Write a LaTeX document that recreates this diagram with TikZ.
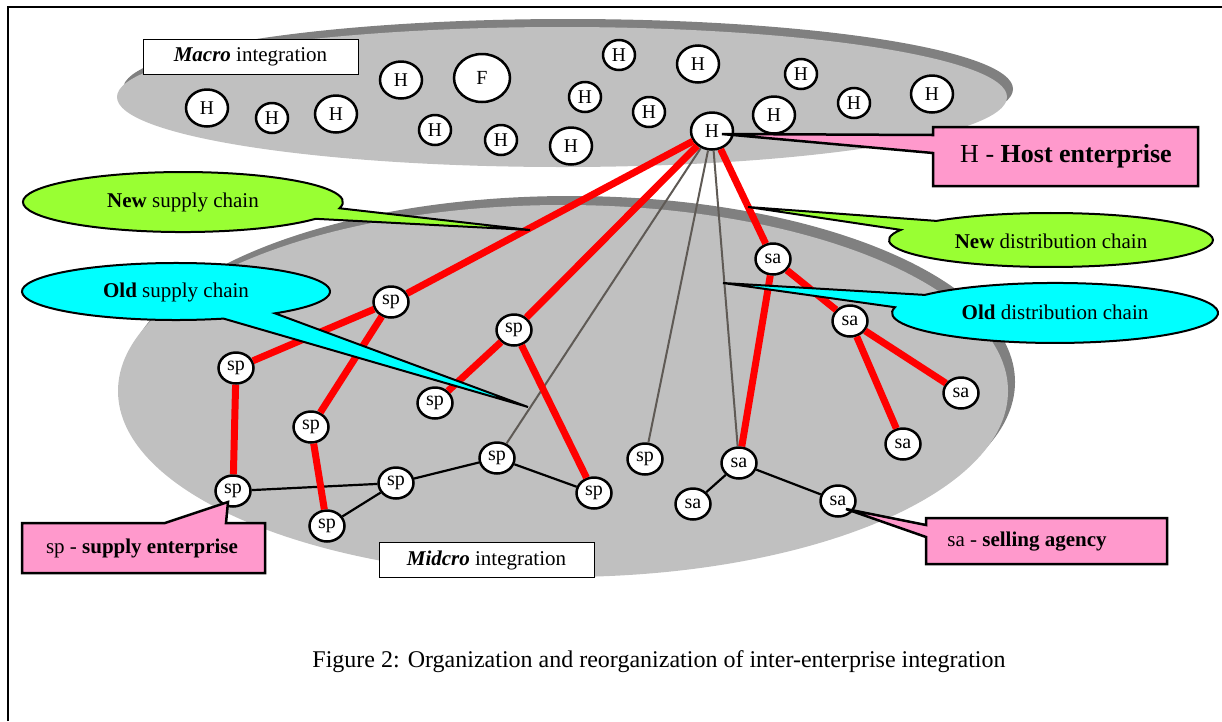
\documentclass[tikz,border=0pt]{standalone}
\usepackage{fontspec}
\setmainfont{Liberation Serif}
\usetikzlibrary{shapes.geometric}
\definecolor{silverfill}{HTML}{C0C0C0}
\definecolor{shadowgray}{HTML}{808080}
\definecolor{chainred}{HTML}{FF0000}
\definecolor{notepink}{HTML}{FF99CC}
\definecolor{newgreen}{HTML}{99FF33}
\definecolor{oldcyan}{HTML}{00FFFF}
\definecolor{oldline}{HTML}{5F5A55}
\newcommand\calloutfont{\fontsize{21}{25}\selectfont}
\begin{document}
\begin{tikzpicture}[x=1pt,y=-1pt,
  ent/.style 2 args={ellipse, draw=black, fill=white, line width=2.5pt,
    minimum width=#1pt, minimum height=#2pt, inner sep=0pt,
    font=\fontsize{19.5}{22}\selectfont},
  hbig/.style={ent={42}{37}},
  hsmall/.style={ent={32}{30}},
  unit/.style={ent={35}{31}, font=\fontsize{20}{22}\selectfont},
  newlink/.style={draw=chainred, line width=7pt},
  oldlink/.style={draw=oldline, line width=2pt},
  tie/.style={draw=black, line width=2.2pt},
  callout/.style={draw=black, line width=2pt, line join=miter},
  legend/.style={draw=black, line width=2.5pt, fill=notepink, line join=miter},
  levelbox/.style={draw=black, line width=0.8pt, fill=white,
    minimum width=215pt, minimum height=35pt, inner sep=0pt, font=\calloutfont},
  notetext/.style={font=\calloutfont, inner sep=0pt}
]
\useasboundingbox (0,0) rectangle (1222,721);

% frame
\draw[line width=2.5pt] (8,721) -- (8,7) -- (1222,7);

% integration levels
\fill[shadowgray] (568,89) ellipse[x radius=445, y radius=70];
\fill[silverfill] (562,97) ellipse[x radius=445, y radius=70];
\fill[shadowgray] (570,382) ellipse[x radius=445, y radius=186];
\fill[silverfill] (563,391) ellipse[x radius=445, y radius=186];

% macro level enterprises
\node[hbig]   (ha) at (207,108) {H};
\node[hsmall] (hb) at (272,118) {H};
\node[hbig]   (hc) at (336,114) {H};
\node[hbig]   (hd) at (401,80)  {H};
\node[ent={56}{48}, font=\fontsize{20}{22}\selectfont] (ff) at (482,78) {F};
\node[hsmall] (he) at (435,130) {H};
\node[hsmall] (hf) at (501,140) {H};
\node[hbig]   (hg) at (571,146) {H};
\node[hsmall] (hh) at (585,97)  {H};
\node[hsmall] (hi) at (619,55)  {H};
\node[hsmall] (hj) at (649,112) {H};
\node[hbig]   (hk) at (698,64)  {H};
\node[hbig]   (host) at (712,131) {H};
\node[hbig]   (hl) at (774,115) {H};
\node[hsmall] (hm) at (801,74)  {H};
\node[hsmall] (hn) at (854,103) {H};
\node[hbig]   (ho) at (932,94)  {H};

% midcro level enterprises
\node[unit] (spA) at (391,302) {sp};
\node[unit] (spB) at (236,368) {sp};
\node[unit] (spC) at (514,330) {sp};
\node[unit] (spD) at (435,403) {sp};
\node[unit] (spE) at (311,427) {sp};
\node[unit] (spF) at (233,491) {sp};
\node[unit] (spG) at (396,483) {sp};
\node[unit] (spH) at (327,526) {sp};
\node[unit] (spI) at (497,458) {sp};
\node[unit] (spJ) at (594,493) {sp};
\node[unit] (spK) at (645,459) {sp};
\node[unit] (sa1) at (773,259) {sa};
\node[unit] (sa2) at (850,321) {sa};
\node[unit] (sa3) at (961,393) {sa};
\node[unit] (sa4) at (903,444) {sa};
\node[unit] (sa5) at (739,463) {sa};
\node[unit] (sa6) at (693,504) {sa};
\node[unit] (sa7) at (838,501) {sa};

% old links
\draw[oldlink] (host) -- (spI);
\draw[oldlink] (host) -- (spK);
\draw[oldlink] (host) -- (sa5);
\draw[tie] (spF) -- (spG);
\draw[tie] (spG) -- (spH);
\draw[tie] (spG) -- (spI);
\draw[tie] (spI) -- (spJ);
\draw[tie] (sa5) -- (sa6);
\draw[tie] (sa5) -- (sa7);

% new chains
\draw[newlink] (host) -- (spA);
\draw[newlink] (host) -- (spC);
\draw[newlink] (host) -- (sa1);
\draw[newlink] (spA) -- (spB);
\draw[newlink] (spA) -- (spE);
\draw[newlink] (spB) -- (spF);
\draw[newlink] (spE) -- (spH);
\draw[newlink] (spC) -- (spD);
\draw[newlink] (spC) -- (spJ);
\draw[newlink] (sa1) -- (sa2);
\draw[newlink] (sa1) -- (sa5);
\draw[newlink] (sa2) -- (sa3);
\draw[newlink] (sa2) -- (sa4);

% level captions
\node[levelbox] (macrobox) at (250.5,56.5) {\textbf{\textit{Macro}} integration};
\node[levelbox] (midcrobox) at (486.5,560) {\textbf{\textit{Midcro}} integration};

% chain callouts
\filldraw[callout, fill=newgreen] (315.6,218.8)
  arc[start angle=34, end angle=372, x radius=160, y radius=30] -- (530,230) -- cycle;
\node[notetext] (newsupply) at (183,202) {\textbf{New} supply chain};

\filldraw[callout, fill=oldcyan] (223.6,318.6)
  arc[start angle=72, end angle=410, x radius=154, y radius=28.5] -- (528,407) -- cycle;
\node[notetext] (oldsupply) at (176,292) {\textbf{Old} supply chain};

\filldraw[callout, fill=newgreen] (936.4,220.9)
  arc[start angle=225, end angle=562, x radius=162, y radius=27] -- (748,207) -- cycle;
\node[notetext] (newdist) at (1051,241) {\textbf{New} distribution chain};

\filldraw[callout, fill=oldcyan] (924.8,294.9)
  arc[start angle=217, end angle=551, x radius=163, y radius=30] -- (723,283) -- cycle;
\node[notetext] (olddist) at (1055,312) {\textbf{Old} distribution chain};

% legend boxes
\filldraw[legend] (933,127) -- (1198,127) -- (1198,186) -- (933,186)
  -- (933,153) -- (722,134) -- (933,135) -- cycle;
\node[inner sep=0pt, font=\fontsize{26}{30}\selectfont] (hostnote) at (1066,156)
  {H - \textbf{Host enterprise}};

\filldraw[legend] (22,523) -- (165,523) -- (228,502) -- (226,523) -- (265,523)
  -- (265,573) -- (22,573) -- cycle;
\node[notetext] (spnote) at (142,548) {sp - \textbf{supply enterprise}};

\filldraw[legend] (926,518) -- (1167,518) -- (1167,564) -- (926,564)
  -- (926,537) -- (846,509) -- (926,525) -- cycle;
\node[notetext] (sanote) at (1027,542) {sa - \textbf{selling agency}};

% caption
\node[inner sep=0pt, font=\fontsize{24}{28}\selectfont] (caption) at (659,662)
  {Figure 2: Organization and reorganization of inter-enterprise integration};
\end{tikzpicture}
\end{document}
